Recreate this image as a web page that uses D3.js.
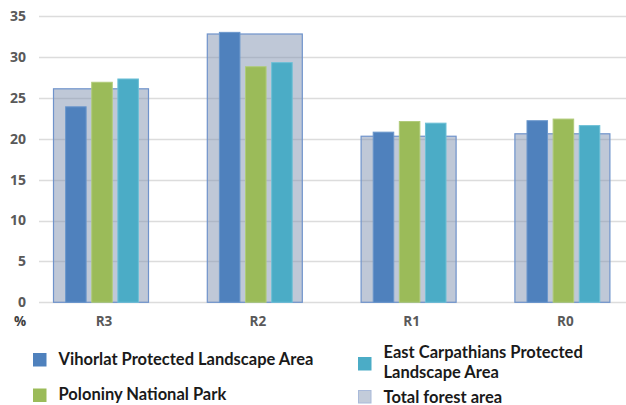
<!DOCTYPE html>
<html>
<head>
<meta charset="utf-8">
<script src="https://cdn.jsdelivr.net/npm/d3@7"></script>
<style>
  html, body { margin: 0; padding: 0; background: #fff; }
  svg { display: block; }
</style>
</head>
<body>
<svg id="chart" width="626" height="405"></svg>
<script>
const categories = ["R3", "R2", "R1", "R0"];
const seriesNames = ["Vihorlat Protected Landscape Area", "Poloniny National Park", "East Carpathians Protected Landscape Area"];
const vihorlat = [23.9, 33.0, 20.8, 22.2];
const poloniny = [26.9, 28.8, 22.1, 22.4];
const eastCarpathians = [27.3, 29.3, 21.9, 21.6];
const totalForest = [26.1, 32.8, 20.3, 20.6];
const yTicks = [0, 5, 10, 15, 20, 25, 30, 35];
const seriesColors = ["#4F81BD", "#9BBB59", "#4BACC6"];
const seriesStroke = ["#6B97CC", "#B0CB7A", "#6DC0D6"];

const svg = d3.select("#chart");
const y = d3.scaleLinear().domain([0, 35]).range([302.3, 16]);
const x = d3.scaleBand().domain(categories).range([24.1, 639.3]).padding(0);
const inner = d3.scaleBand().domain([0, 1, 2]).range([-41, 43]).padding(0.214);

// gridlines
svg.append("g").selectAll("line").data(yTicks).join("line")
  .attr("x1", 39).attr("x2", 626)
  .attr("y1", d => Math.round(y(d)) + 0.5).attr("y2", d => Math.round(y(d)) + 0.5)
  .attr("stroke", "#DCDCDC").attr("stroke-width", 1.3);

// y axis labels
const yAxis = d3.axisLeft(y).tickValues(yTicks).tickSize(0).tickPadding(13);
const gy = svg.append("g").attr("transform", "translate(39,0)").call(yAxis);
gy.select(".domain").remove();
gy.selectAll("text").attr("font-family", "Open Sans, sans-serif").attr("font-weight", "bold")
  .attr("font-size", 14).attr("fill", "#595959");

// total forest area bars
const totalW = 95;
svg.append("g").selectAll("rect").data(categories).join("rect")
  .attr("x", (c) => x(c) + x.bandwidth() / 2 - totalW / 2)
  .attr("y", (c, i) => y(totalForest[i]))
  .attr("width", totalW)
  .attr("height", (c, i) => y(0) - y(totalForest[i]))
  .attr("fill", "rgb(127,145,175)").attr("fill-opacity", 0.5)
  .attr("stroke", "#6F93CB").attr("stroke-width", 1.2);

// series bars
const seriesData = [vihorlat, poloniny, eastCarpathians];
seriesData.forEach((vals, s) => {
  svg.append("g").selectAll("rect").data(categories).join("rect")
    .attr("x", (c) => x(c) + x.bandwidth() / 2 + inner(s))
    .attr("y", (c, i) => y(vals[i]))
    .attr("width", inner.bandwidth())
    .attr("height", (c, i) => y(0) - y(vals[i]))
    .attr("fill", seriesColors[s])
    .attr("stroke", seriesStroke[s]).attr("stroke-width", 1);
});

// x axis labels
const xAxis = d3.axisBottom(x).tickSize(0).tickPadding(0);
const gx = svg.append("g").attr("transform", "translate(3,0)").call(xAxis);
gx.select(".domain").remove();
gx.selectAll("text").attr("y", 326).attr("dy", 0)
  .attr("font-family", "Open Sans, sans-serif").attr("font-weight", "bold")
  .attr("font-size", 13.5).attr("fill", "#595959");

svg.append("text").attr("x", 14).attr("y", 326).text("%")
  .attr("font-family", "Open Sans, sans-serif").attr("font-weight", "bold")
  .attr("font-size", 13.5).attr("fill", "#404040");

// legend
const legend = [
  { color: seriesColors[0], stroke: seriesColors[0], x: 33, sy: 353, lines: [[seriesNames[0], 365]] },
  { color: seriesColors[1], stroke: seriesColors[1], x: 33, sy: 388.5, lines: [[seriesNames[1], 399.5]] },
  { color: seriesColors[2], stroke: seriesColors[2], x: 358, sy: 357, lines: [["East Carpathians Protected", 357.5], ["Landscape Area", 378]] },
  { color: "#C3CCDA", stroke: "#A9BADA", x: 358, sy: 390, lines: [["Total forest area", 402.5]] }
];
const lg = svg.append("g");
legend.forEach(l => {
  lg.append("rect").attr("x", l.x + 0.5).attr("y", l.sy + 0.5).attr("width", 12.5).attr("height", 12.5)
    .attr("fill", l.color).attr("stroke", l.stroke).attr("stroke-width", 1);
  l.lines.forEach(([t, by]) => {
    lg.append("text").attr("x", l.x + 25.5).attr("y", by).text(t)
      .attr("font-family", "Lato, sans-serif").attr("font-weight", "bold")
      .attr("font-size", 16.5).attr("fill", "#1a1a1a");
  });
});
</script>
</body>
</html>
